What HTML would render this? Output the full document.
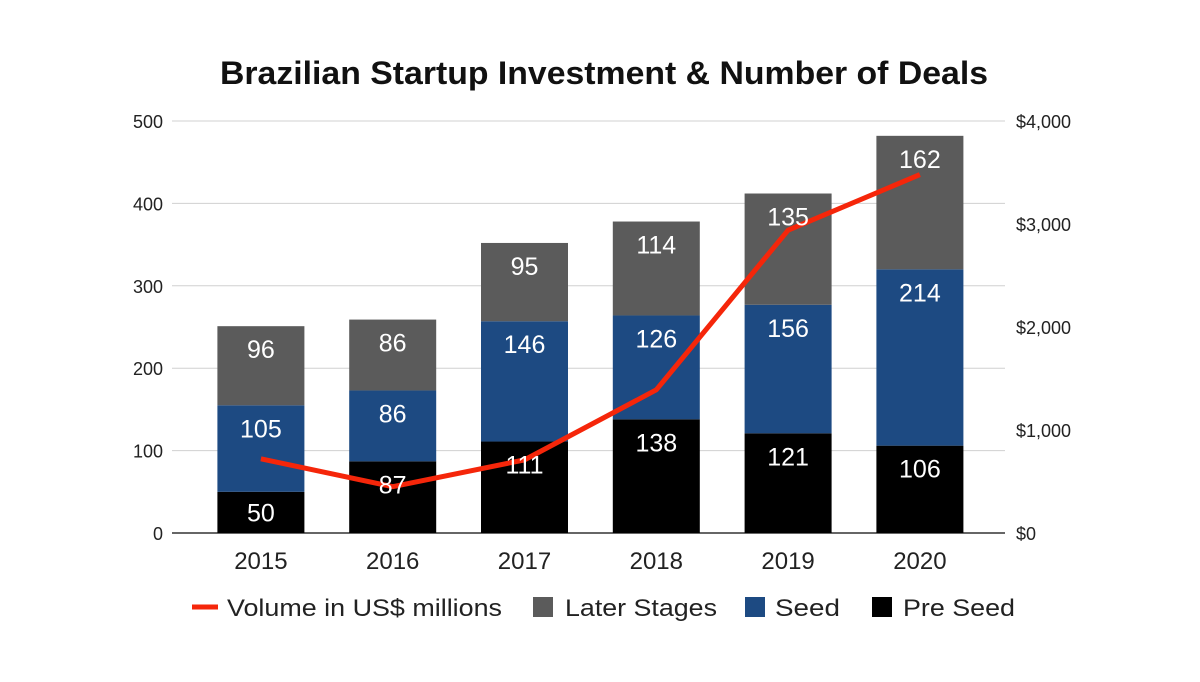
<!DOCTYPE html>
<html><head><meta charset="utf-8"><style>
body{margin:0;background:#fff;}
svg{display:block;font-family:"Liberation Sans",Arial,sans-serif;}
</style></head><body>
<svg id="chart" width="1200" height="682" viewBox="0 0 1200 682">
<text x="220" y="84" textLength="768" lengthAdjust="spacingAndGlyphs" font-size="32" font-weight="bold" fill="#111">Brazilian Startup Investment &amp; Number of Deals</text>
<g id="grid"></g><g id="bars"></g><g id="line"></g><g id="labels"></g><g id="axes"></g>
<g font-size="24" fill="#222">
<g><line x1="192" y1="607" x2="218" y2="607" stroke="#f5260a" stroke-width="5"/><text x="227" y="616" textLength="275" lengthAdjust="spacingAndGlyphs">Volume in US$ millions</text></g>
<g><rect x="533" y="597" width="20" height="20" fill="#5b5b5b"/><text x="565" y="616" textLength="152" lengthAdjust="spacingAndGlyphs">Later Stages</text></g>
<g><rect x="745" y="597" width="20" height="20" fill="#1d4a82"/><text x="775" y="616" textLength="65" lengthAdjust="spacingAndGlyphs">Seed</text></g>
<g><rect x="872" y="597" width="20" height="20" fill="#000"/><text x="903" y="616" textLength="112" lengthAdjust="spacingAndGlyphs">Pre Seed</text></g>
</g>
</svg>
<script>
const years=["2015","2016","2017","2018","2019","2020"];
const preSeed=[50,87,111,138,121,106];
const seed=[105,86,146,126,156,214];
const later=[96,86,95,114,135,162];
const volume=[720,450,710,1390,2940,3480];
const leftTicks=[0,100,200,300,400,500];
const rightTicks=[0,1000,2000,3000,4000];
const rightLabels=["$0","$1,000","$2,000","$3,000","$4,000"];
const NS="http://www.w3.org/2000/svg";
const y0=533,yTop=121,x0=195,step=131.8,bw=87;
const yL=v=>y0-(v/500)*(y0-yTop);
const yR=v=>y0-(v/4000)*(y0-yTop);
const xC=i=>x0+step*(i+0.5);
function mk(tag,attrs,parent,txt){const e=document.createElementNS(NS,tag);for(const k in attrs)e.setAttribute(k,attrs[k]);if(txt!==undefined)e.textContent=txt;document.getElementById(parent).appendChild(e);return e;}
leftTicks.forEach(t=>{
 const l=mk('line',{x1:172,x2:1005,y1:yL(t),y2:yL(t),stroke:t===0?'#333':'#d0d0d0','stroke-width':t===0?1.5:1},'grid');
 
 
 const tx=mk('text',{x:163,y:yL(t)+7,'text-anchor':'end','font-size':18,fill:'#222'},'axes',t);
 
 
});
rightTicks.forEach((t,i)=>{
 const tx=mk('text',{x:1016,y:yR(t)+7,'font-size':18,fill:'#222'},'axes',rightLabels[i]);
 
 
});
years.forEach((y,i)=>{
 const cx=xC(i);
 const segs=[[0,preSeed[i],'#000','pre-seed'],[preSeed[i],preSeed[i]+seed[i],'#1d4a82','seed'],[preSeed[i]+seed[i],preSeed[i]+seed[i]+later[i],'#5b5b5b','later-stages']];
 const vals=[preSeed[i],seed[i],later[i]];
 segs.forEach((s,j)=>{
  const top=yL(s[1]),bot=yL(s[0]);
  const r=mk('rect',{x:cx-bw/2,y:top,width:bw,height:bot-top,fill:s[2]},'bars');
  
  
  const ly=Math.min(top+32,(top+bot)/2+9);
  const lb=mk('text',{x:cx,y:ly,'text-anchor':'middle','font-size':25,fill:'#fff'},'labels',vals[j]);
  
  
 });
 const xt=mk('text',{x:cx,y:569,'text-anchor':'middle','font-size':24,fill:'#222'},'axes',y);
 
 
});
const pts=volume.map((v,i)=>xC(i)+','+yR(v)).join(' ');
const pl=mk('polyline',{points:pts,fill:'none',stroke:'#f5260a','stroke-width':5,'stroke-linejoin':'round'},'line');


</script>
</body></html>
